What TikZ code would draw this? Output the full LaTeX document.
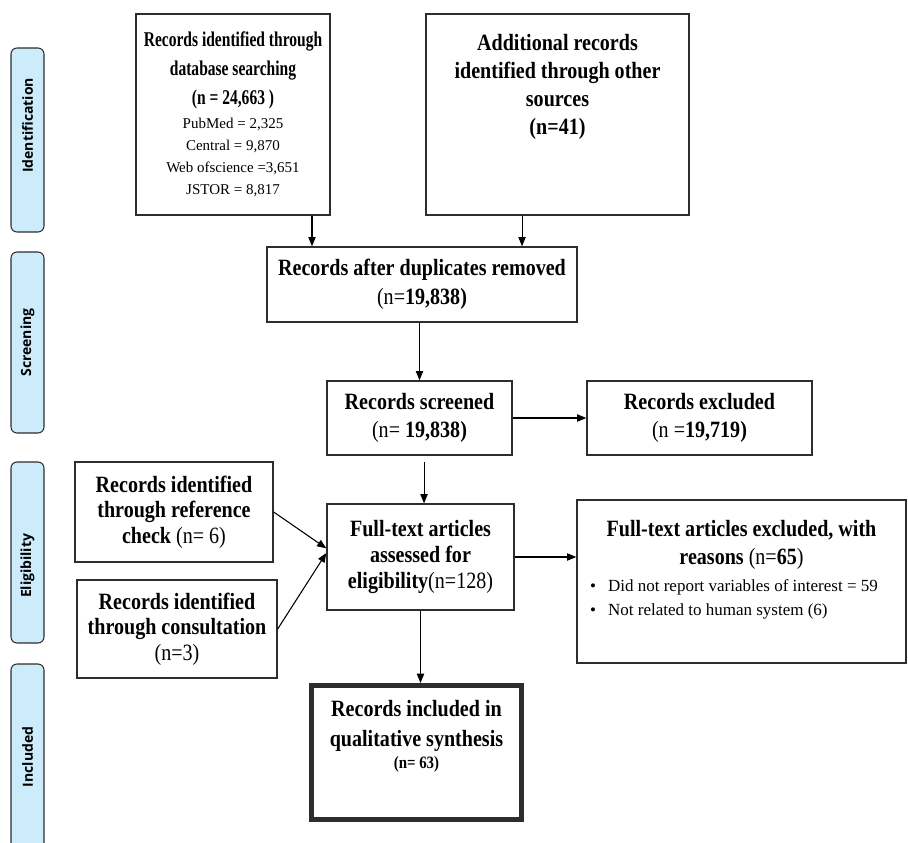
\documentclass[tikz,border=0pt]{standalone}
\usepackage{fontspec}
\setmainfont{Liberation Serif}
\newfontfamily\boxfont[FakeStretch=0.86]{Liberation Serif}
\newfontfamily\dbfont[FakeStretch=0.74]{Liberation Serif}
\newfontfamily\sidefont{Open Sans}
\usetikzlibrary{arrows.meta}
\definecolor{sideblue}{RGB}{204,236,252}
\definecolor{edgegray}{RGB}{45,45,45}
\begin{document}
\begin{tikzpicture}[x=0.75pt,y=-0.75pt,>={Triangle[length=7pt,width=5.5pt]},
	box/.style={draw=edgegray,line width=1pt,inner sep=0pt,font=\boxfont\fontsize{17.5}{21.5}\selectfont},
	tbox/.style={box,align=flush center},
	side/.style={draw=edgegray,fill=sideblue,line width=0.8pt,rounded corners=4.5pt,rotate=90,minimum height=24.75pt,font=\sidefont\bfseries\fontsize{10.5}{12}\selectfont},
	link/.style={->,line width=0.8pt,black}]
		\useasboundingbox (0,0) rectangle (908,843);
		\node[side,minimum width=138pt] (ident) at (27.5,140) {\hspace*{22pt}Identification};
		\node[side,minimum width=135.75pt] (screen) at (27.5,342.5) {Screening};
		\node[side,minimum width=135.75pt] (elig) at (27.5,552.5) {Eligibility\hspace*{20pt}};
		\node[side,minimum width=139.5pt] (inclside) at (27.5,757) {Included};
		\node[tbox,minimum width=145.5pt,minimum height=150.75pt,text width=140pt,font=\dbfont\fontsize{15.75}{21.75}\selectfont] (db) at (233,114.5)
		{\textbf{Records identified through\\ database searching\\ (n = 24,663 )}\par\vspace{1.5pt}
		{\rmfamily\fontsize{11.25}{16.5}\selectfont PubMed = 2,325\\ Central = 9,870\\ Web ofscience =3,651\\ JSTOR = 8,817\par}};
		\node[box,minimum width=197.25pt,minimum height=150.75pt] (other) at (557.5,114.5)
		{\parbox[c][150.75pt][t]{190pt}{\vspace*{15.5pt}\centering\fontsize{17.5}{21}\selectfont
		\textbf{Additional records\\ identified through other\\ sources\\ (n=41)}\par}};
		\node[tbox,minimum width=232.5pt,minimum height=56.25pt,text width=228pt] (dup) at (422,284.5)
		{\textbf{Records after duplicates removed}\\ (n=\textbf{19,838)}};
		\node[tbox,minimum width=138.75pt,minimum height=55.5pt,text width=134pt] (screened) at (419.5,418)
		{\textbf{Records screened}\\ (n= \textbf{19,838)}};
		\node[tbox,minimum width=168.75pt,minimum height=55.5pt,text width=164pt] (excluded) at (699.5,418)
		{\textbf{Records excluded}\\ (n =\textbf{19,719)}};
		\node[tbox,minimum width=140.25pt,minimum height=79.5pt,text width=136pt,font=\boxfont\fontsize{17.5}{19.5}\selectfont] (fulltext) at (420.5,557)
		{\textbf{Full-text articles\\ assessed for\\ eligibility}(n=128)};
		\node[box,minimum width=246.75pt,minimum height=122.25pt] (fte) at (741.5,581.5)
		{\parbox[c][122.25pt][t]{227pt}{\vspace*{15pt}\centering
		\textbf{Full-text articles excluded, with\\ reasons} (n=\textbf{65})\par\vspace{2pt}
		{\raggedright\rmfamily\fontsize{12.75}{18}\selectfont
		\textbullet\hspace{9pt}Did not report variables of interest = 59\\
		\textbullet\hspace{9pt}Not related to human system (6)\par}}};
		\node[tbox,minimum width=148.5pt,minimum height=75pt,text width=144pt,font=\boxfont\fontsize{17.5}{19}\selectfont] (ref) at (174,512)
		{\textbf{Records identified\\ through reference\\ check} (n= 6)};
		\node[tbox,minimum width=150pt,minimum height=73.5pt,text width=148pt,font=\boxfont\fontsize{17.5}{19}\selectfont] (cons) at (177,629)
		{\textbf{Records identified\\ through consultation}\\ (n=3)};
		\node[box,line width=3.75pt,minimum width=157.5pt,minimum height=100.5pt] (incl) at (416.5,752.5)
		{\parbox[c][100.5pt][t]{150pt}{\vspace*{11pt}\centering\fontsize{17.5}{22.5}\selectfont
		\textbf{Records included in\\ qualitative synthesis}\par
		{\fontsize{13}{16.5}\selectfont\textbf{(n= 63)}\par}}};
		\draw[link] ([xshift=59.25pt]db.south) -- ([xshift=59.25pt]db.south |- dup.north);
		\draw[link] ([xshift=-26.6pt]other.south) -- ([xshift=-26.6pt]other.south |- dup.north);
		\draw[link] (dup.south -| screened.north) -- (screened.north);
		\draw[link] (screened) -- (excluded);
		\draw[link] ([xshift=3.4pt,yshift=-5pt]screened.south) -- ([xshift=3.4pt]screened.south |- fulltext.north);
		\draw[link] (ref.east) -- ([yshift=6.5pt]fulltext.west);
		\draw[link] (cons.east) -- ([yshift=3pt]fulltext.west);
		\draw[link] (fulltext.east) -- (fulltext.east -| fte.west);
		\draw[link] (fulltext.south) -- (fulltext.south |- incl.north);
\end{tikzpicture}
\end{document}
